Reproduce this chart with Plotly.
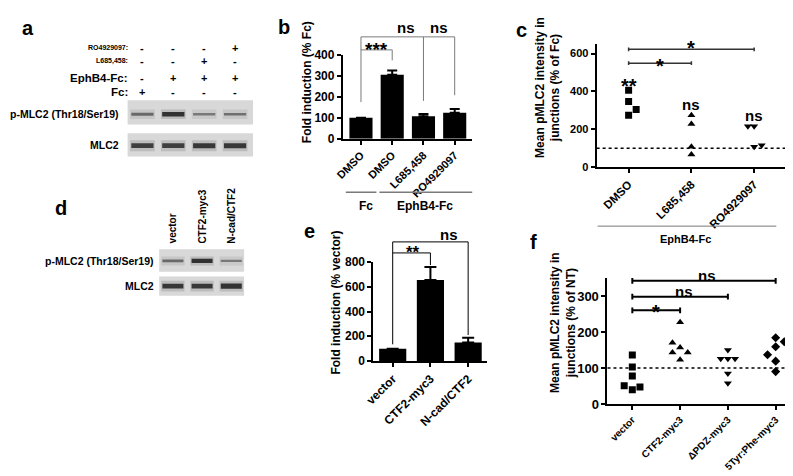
import plotly.graph_objects as go

W, H = 793, 476
FONT = "Liberation Sans, Arial, sans-serif"

# ---------------- data ----------------
# panel a: western blot, 4 lanes
a_rows = ["RO4929097:", "L685,458:", "EphB4-Fc:", "Fc:"]
a_signs = [["-", "-", "-", "+"],
           ["-", "-", "+", "-"],
           ["-", "+", "+", "+"],
           ["+", "-", "-", "-"]]
a_pmlc2 = [0.6, 0.95, 0.5, 0.55]      # band intensity (0-1)
a_mlc2 = [0.85, 0.85, 0.9, 0.9]

# panel d: western blot, 3 lanes
d_lanes = ["vector", "CTF2-myc3", "N-cad/CTF2"]
d_pmlc2 = [0.6, 0.95, 0.5]
d_mlc2 = [0.9, 0.9, 0.95]

# panel b
b_cats = ["DMSO", "DMSO", "L685,458", "RO4929097"]
b_vals = [100, 305, 107, 124]
b_err = [0, 20, 10, 17]

# panel c
c_cats = ["DMSO", "L685,458", "RO4929097"]
c_dmso = [407, 347, 275, 305]
c_dmso_dx = [0, 0, 0, 0.12]
c_l685 = [275, 228, 108, 68]
c_l685_dx = [0, 0, 0, 0]
c_ro = [217, 217, 108, 117]
c_ro_dx = [-0.1, 0, 0, 0.12]

# panel e
e_cats = ["vector", "CTF2-myc3", "N-cad/CTF2"]
e_vals = [100, 655, 150]
e_err = [0, 105, 38]

# panel f
f_cats = ["vector", "CTF2-myc3", "ΔPDZ-myc3", "5Tyr:Phe-myc3"]
f_vector = [136, 103, 78, 40, 51, 47]
f_vector_dx = [0, 0, 0, 0, -0.17, 0.16]
f_ctf2 = [227, 170, 157, 143, 143, 123]
f_ctf2_dx = [0, -0.16, 0, -0.16, 0.16, 0]
f_pdz = [150, 126, 126, 126, 85, 58]
f_pdz_dx = [0, -0.15, 0, 0.15, 0, 0]
f_tyr = [184, 173, 159, 137, 119, 90]
f_tyr_dx = [0, 0.18, 0, -0.17, 0, 0]


def X(px):
    return px / W


def Y(py):
    return 1 - py / H


fig = go.Figure()
ann = []
shapes = []


def line(xr, yr, x0, y0, x1, y1, color="black", width=1.5, dash=None):
    shapes.append(dict(type="line", xref=xr, yref=yr, x0=x0, y0=y0, x1=x1, y1=y1,
                       line=dict(color=color, width=width, dash=dash)))


def text(x, y, t, xr="paper", yr="paper", size=11, xa="center", ya="middle", angle=0, color="black"):
    ann.append(dict(x=x, y=y, xref=xr, yref=yr, text=t, showarrow=False, xanchor=xa, yanchor=ya,
                    textangle=angle, font=dict(size=size, color=color)))


# ---------------- blots ----------------
def blot(ax, intens, center, thick):
    xr = "x" + ("" if ax == 1 else str(ax))
    yr = "y" + ("" if ax == 1 else str(ax))
    shapes.append(dict(type="rect", xref=xr + " domain", yref=yr + " domain", x0=0, x1=1, y0=0, y1=1,
                       fillcolor="#d8d8d8", line=dict(width=0), layer="below"))
    lanes = list(range(len(intens)))
    fig.add_trace(go.Bar(x=lanes, y=[thick * 2.0] * len(lanes), base=[center - thick] * len(lanes),
                         width=0.8, marker=dict(color=[f"rgba(80,80,80,{v * 0.22:.2f})" for v in intens],
                                                line=dict(width=0)),
                         xaxis=xr, yaxis=yr, showlegend=False, hoverinfo="skip"))
    fig.add_trace(go.Bar(x=lanes, y=[thick * v for v in intens],
                         base=[center - thick * v / 2 for v in intens],
                         width=0.72, marker=dict(color=[f"rgba(25,25,25,{v * 0.9:.2f})" for v in intens],
                                                 line=dict(width=0)),
                         xaxis=xr, yaxis=yr, showlegend=False, hoverinfo="skip"))


blot(1, a_pmlc2, 0.42, 0.2)
blot(2, a_mlc2, 0.46, 0.24)
blot(3, d_pmlc2, 0.48, 0.2)
blot(4, d_mlc2, 0.5, 0.28)

# panel a header
row_y = [34, 48, 65, 79]
row_size = [7, 7, 11.5, 11.5]
for r, lab in enumerate(a_rows):
    text(X(113), Y(row_y[r]), lab, size=row_size[r], xa="right")
    for i, s in enumerate(a_signs[r]):
        text(i, Y(row_y[r]), s, xr="x", size=11)
text(X(104), Y(102), "p-MLC2 (Thr18/Ser19)", size=10.5, xa="right")
text(X(104), Y(134), "MLC2", size=10.5, xa="right")

# panel d labels
for i, lab in enumerate(d_lanes):
    text(i, Y(238), lab, xr="x3", size=10, ya="bottom", angle=-90)
text(X(140), Y(254), "p-MLC2 (Thr18/Ser19)", size=10.5, xa="right")
text(X(140), Y(280), "MLC2", size=10.5, xa="right")

g = "#7a7a7a"

# ---------------- panel b ----------------
fig.add_trace(go.Bar(x=list(range(4)), y=b_vals, width=0.74, marker=dict(color="black", line=dict(width=0)),
                     error_y=dict(type="data", array=b_err, arrayminus=[0] * 4, color="black", thickness=2, width=5),
                     xaxis="x5", yaxis="y5", showlegend=False))
# brackets drawn on a taller hidden axis (y9) with the same scale as y5
line("x5", "y9", 0, 485, 3, 485, g, 1)
line("x5", "y9", 0, 485, 0, 174, g, 1)
line("x5", "y9", 2, 485, 2, 180, g, 1)
line("x5", "y9", 3, 485, 3, 207, g, 1)
line("x5", "y9", 0, 423, 1, 423, g, 1)
line("x5", "y9", 1, 423, 1, 373, g, 1)
text(0.5, 424, "***", xr="x5", yr="y9", size=19)
text(1.45, 530, "ns", xr="x5", yr="y9", size=15)
text(2.5, 530, "ns", xr="x5", yr="y9", size=15)
line("paper", "paper", X(332), Y(183), X(363), Y(183), g, 1.5)
line("paper", "paper", X(366), Y(183), X(460), Y(183), g, 1.5)
text(X(352), Y(197), "Fc", size=12)
text(X(412), Y(197), "EphB4-Fc", size=12)
text(X(293), Y(69), "Fold induction (% Fc)", size=12, angle=-90)

# ---------------- panel c ----------------
mk = dict(color="black", size=7)
fig.add_trace(go.Scatter(x=[0 + d for d in c_dmso_dx], y=c_dmso, mode="markers",
                         marker=dict(symbol="square", **mk), xaxis="x6", yaxis="y6", showlegend=False))
fig.add_trace(go.Scatter(x=[1 + d for d in c_l685_dx], y=c_l685, mode="markers",
                         marker=dict(symbol="triangle-up", **mk), xaxis="x6", yaxis="y6", showlegend=False))
fig.add_trace(go.Scatter(x=[2 + d for d in c_ro_dx], y=c_ro, mode="markers",
                         marker=dict(symbol="triangle-down", **mk), xaxis="x6", yaxis="y6", showlegend=False))
shapes.append(dict(type="line", xref="x6 domain", yref="y6", x0=0, x1=1, y0=100, y1=100,
                   line=dict(color="black", width=1.5, dash="dot")))
for (x0, x1, yv, sy) in [(0, 1, 549, 536), (0, 2, 622, 629)]:
    line("x6", "y10", x0, yv, x1, yv, "#333", 1.5)
    line("x6", "y10", x0, yv - 10, x0, yv + 10, "#333", 1.5)
    line("x6", "y10", x1, yv - 10, x1, yv + 10, "#333", 1.5)
    text((x0 + x1) / 2, sy, "*", xr="x6", yr="y10", size=20)
text(0, 430, "**", xr="x6", yr="y10", size=20)
text(1, 329, "ns", xr="x6", yr="y10", size=15)
text(2, 271, "ns", xr="x6", yr="y10", size=15)
line("paper", "paper", X(587), Y(218), X(768), Y(218), g, 1)
text(X(676), Y(231), "EphB4-Fc", size=11)
text(X(536), Y(75), "Mean pMLC2 intensity in<br>junctions (% of Fc)", size=12, angle=-90)

# ---------------- panel e ----------------
fig.add_trace(go.Bar(x=list(range(3)), y=e_vals, width=0.72, marker=dict(color="black", line=dict(width=0)),
                     error_y=dict(type="data", array=e_err, arrayminus=[0] * 3, color="black", thickness=2, width=6),
                     xaxis="x7", yaxis="y7", showlegend=False))
line("x7", "y11", 0, 962, 2, 962, "black", 1)
line("x7", "y11", 0, 962, 0, 135, "black", 1)
line("x7", "y11", 2, 962, 2, 210, "black", 1)
line("x7", "y11", 0, 873, 1, 873, "black", 1)
line("x7", "y11", 1, 873, 1, 775, "black", 1)
text(0.55, 880, "**", xr="x7", yr="y11", size=17)
text(1.48, 1021, "ns", xr="x7", yr="y11", size=15)
text(X(322), Y(297), "Fold induction (% vector)", size=12, angle=-90)

# ---------------- panel f ----------------
mk = dict(color="black", size=7)
for k, (vals, dx, sym) in enumerate([(f_vector, f_vector_dx, "square"), (f_ctf2, f_ctf2_dx, "triangle-up"),
                                     (f_pdz, f_pdz_dx, "triangle-down"), (f_tyr, f_tyr_dx, "diamond")]):
    fig.add_trace(go.Scatter(x=[k + d for d in dx], y=vals, mode="markers",
                             marker=dict(symbol=sym, **mk), xaxis="x8", yaxis="y8", showlegend=False))
shapes.append(dict(type="line", xref="x8 domain", yref="y8", x0=0, x1=1, y0=100, y1=100,
                   line=dict(color="black", width=1.5, dash="dot")))
for (x0, x1, yv) in [(0, 3, 342), (0, 2, 298), (0, 1, 260)]:
    line("x8", "y12", x0, yv, x1, yv, "black", 2)
    line("x8", "y12", x0, yv - 8, x0, yv + 8, "black", 2)
    line("x8", "y12", x1, yv - 8, x1, yv + 8, "black", 2)
for (xx, yy, lab, sz) in [(1.56, 356, "ns", 15), (1.09, 311, "ns", 15), (0.5, 256, "*", 20)]:
    text(xx, yy, lab, xr="x8", yr="y12", size=sz)
text(X(552), Y(318), "Mean pMLC2 intensity in<br>junctions (% of NT)", size=12, angle=-90)

# panel letters
for lab, px, py in [("a", 10, 13), ("b", 269, 12), ("c", 510, 15), ("d", 44, 199), ("e", 295, 223), ("f", 522, 234)]:
    text(X(px), Y(py), lab, size=20)

# ---------------- axes ----------------
hidden = dict(visible=False, showgrid=False, zeroline=False, fixedrange=True)


def ax_common(size):
    return dict(showline=True, linecolor="black", linewidth=2, ticks="outside", tickwidth=2, ticklen=4,
                tickcolor="black", showgrid=False, zeroline=False, tickfont=dict(size=size))


def taller(dom, rng, top_px, anchor):
    # hidden axis sharing the scale of a panel's y axis but reaching higher up the page
    d0, d1 = dom
    top = Y(top_px)
    r1 = rng[0] + (rng[1] - rng[0]) * (top - d0) / (d1 - d0)
    return dict(domain=[d0, top], range=[rng[0], r1], anchor=anchor, **hidden)


b_dom, b_rng = [Y(127.7), Y(41)], [0, 400]
c_dom, c_rng = [Y(157.3), Y(30)], [0, 650]
e_dom, e_rng = [Y(357.3), Y(255)], [0, 800]
f_dom, f_rng = [Y(401.7), Y(271.5)], [0, 350]

layout_axes = dict(
    xaxis=dict(domain=[X(111), X(238)], range=[-0.48, 3.58], anchor="y", **hidden),
    yaxis=dict(domain=[Y(113), Y(88)], range=[0, 1], anchor="x", **hidden),
    xaxis2=dict(domain=[X(111), X(238)], range=[-0.48, 3.58], anchor="y2", **hidden),
    yaxis2=dict(domain=[Y(146), Y(122)], range=[0, 1], anchor="x2", **hidden),
    xaxis3=dict(domain=[X(143), X(229)], range=[-0.47, 2.44], anchor="y3", **hidden),
    yaxis3=dict(domain=[Y(265), Y(242)], range=[0, 1], anchor="x3", **hidden),
    xaxis4=dict(domain=[X(143), X(229)], range=[-0.47, 2.44], anchor="y4", **hidden),
    yaxis4=dict(domain=[Y(290), Y(270)], range=[0, 1], anchor="x4", **hidden),
    xaxis5=dict(domain=[X(329), X(460)], range=[-0.58, 3.56], anchor="y5", tickvals=list(range(4)),
                ticktext=b_cats, tickangle=-45, **ax_common(11)),
    yaxis5=dict(domain=b_dom, range=b_rng, dtick=100, anchor="x5", **ax_common(12)),
    xaxis6=dict(domain=[X(586), X(778)], range=[-0.51, 2.51], anchor="y6", tickvals=list(range(3)),
                ticktext=c_cats, tickangle=-45, **ax_common(11.5)),
    yaxis6=dict(domain=c_dom, range=c_rng, tickvals=[0, 200, 400, 600], anchor="x6", **ax_common(11)),
    xaxis7=dict(domain=[X(360), X(475)], range=[-0.51, 2.5], anchor="y7", tickvals=list(range(3)),
                ticktext=e_cats, tickangle=-45, **ax_common(12)),
    yaxis7=dict(domain=e_dom, range=e_rng, dtick=200, anchor="x7", **ax_common(12)),
    xaxis8=dict(domain=[X(597), 1.0], range=[-0.52, 3.53], anchor="y8", tickvals=list(range(4)),
                ticktext=f_cats, tickangle=-45, **ax_common(10)),
    yaxis8=dict(domain=f_dom, range=f_rng, tickvals=[0, 100, 200, 300], anchor="x8", **ax_common(13)),
    yaxis9=taller(b_dom, b_rng, 0, "x5"),
    yaxis10=taller(c_dom, c_rng, 5, "x6"),
    yaxis11=taller(e_dom, e_rng, 215, "x7"),
    yaxis12=taller(f_dom, f_rng, 255, "x8"),
)

# empty traces so the bracket subplots exist
for xa, ya in [("x5", "y9"), ("x6", "y10"), ("x7", "y11"), ("x8", "y12")]:
    fig.add_trace(go.Scatter(x=[None], y=[None], xaxis=xa, yaxis=ya, showlegend=False, hoverinfo="skip"))

fig.update_layout(
    width=W, height=H, margin=dict(l=0, r=0, t=0, b=0),
    paper_bgcolor="white", plot_bgcolor="rgba(0,0,0,0)",
    font=dict(family=FONT, size=11, color="black", weight="bold"),
    barmode="overlay", showlegend=False,
    annotations=ann, shapes=shapes,
    **layout_axes,
)

fig.write_html("out.html")
